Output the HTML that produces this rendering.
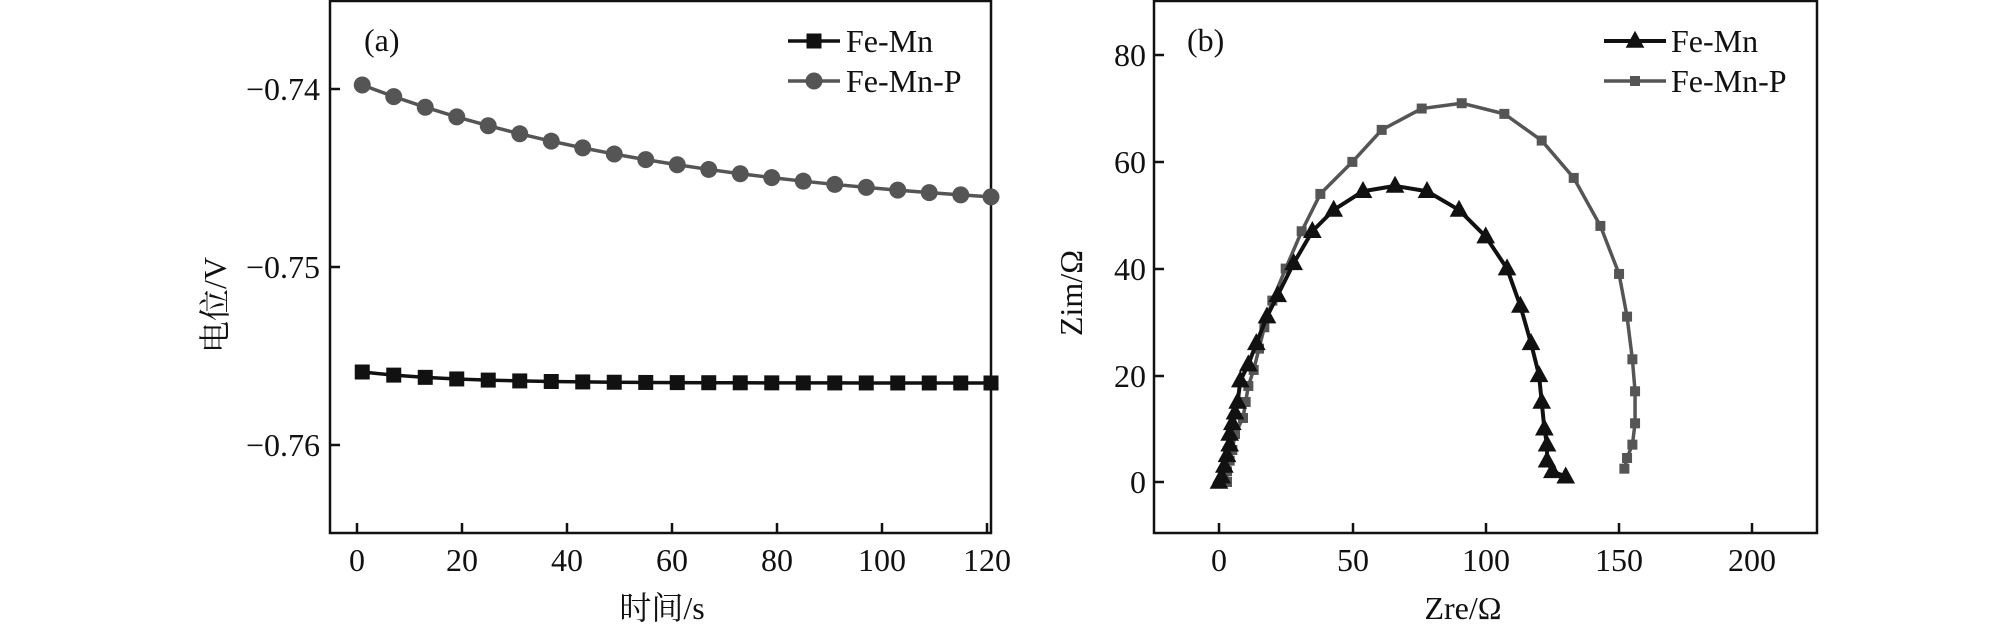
<!DOCTYPE html>
<html><head><meta charset="utf-8"><style>
html,body{margin:0;padding:0;background:#fff;}
svg{display:block;}
text{font-family:"Liberation Serif","Noto Serif CJK SC",serif;fill:#111;}
</style></head><body>
<svg id="s" width="2008" height="628" viewBox="0 0 2008 628" xmlns="http://www.w3.org/2000/svg">
<rect width="2008" height="628" fill="#fff"/>
<rect x="330" y="1" width="661" height="532" fill="none" stroke="#111" stroke-width="2.5"/>
<g stroke="#111" stroke-width="2.5">
<line x1="330" y1="89" x2="340" y2="89"/><line x1="330" y1="267" x2="340" y2="267"/><line x1="330" y1="445" x2="340" y2="445"/>
<line x1="357" y1="533" x2="357" y2="523"/><line x1="462" y1="533" x2="462" y2="523"/><line x1="567" y1="533" x2="567" y2="523"/><line x1="672" y1="533" x2="672" y2="523"/><line x1="777" y1="533" x2="777" y2="523"/><line x1="882" y1="533" x2="882" y2="523"/><line x1="987" y1="533" x2="987" y2="523"/>
</g>
<g font-size="32" text-anchor="end">
<text x="320" y="100">−0.74</text><text x="320" y="278">−0.75</text><text x="320" y="456">−0.76</text>
</g>
<g font-size="32" text-anchor="middle">
<text x="357" y="571">0</text><text x="462" y="571">20</text><text x="567" y="571">40</text><text x="672" y="571">60</text><text x="777" y="571">80</text><text x="882" y="571">100</text><text x="987" y="571">120</text>
<text x="662" y="619">时间/s</text>
<text transform="translate(226,305) rotate(-90)">电位/V</text>
</g>
<text x="364" y="51" font-size="32">(a)</text>
<g font-size="32"><text x="846" y="52">Fe-Mn</text><text x="846" y="92">Fe-Mn-P</text></g>

<rect x="1154" y="1" width="663" height="532" fill="none" stroke="#111" stroke-width="2.5"/>
<g stroke="#111" stroke-width="2.5">
<line x1="1154" y1="482" x2="1164" y2="482"/><line x1="1154" y1="376" x2="1164" y2="376"/><line x1="1154" y1="269" x2="1164" y2="269"/><line x1="1154" y1="162" x2="1164" y2="162"/><line x1="1154" y1="55" x2="1164" y2="55"/>
<line x1="1219" y1="533" x2="1219" y2="523"/><line x1="1353" y1="533" x2="1353" y2="523"/><line x1="1486" y1="533" x2="1486" y2="523"/><line x1="1619" y1="533" x2="1619" y2="523"/><line x1="1752" y1="533" x2="1752" y2="523"/>
</g>
<g font-size="32" text-anchor="end">
<text x="1146" y="493">0</text><text x="1146" y="387">20</text><text x="1146" y="280">40</text><text x="1146" y="173">60</text><text x="1146" y="66">80</text>
</g>
<g font-size="32" text-anchor="middle">
<text x="1219" y="571">0</text><text x="1353" y="571">50</text><text x="1486" y="571">100</text><text x="1619" y="571">150</text><text x="1752" y="571">200</text>
<text x="1463" y="619">Zre/Ω</text>
<text transform="translate(1082,293) rotate(-90)">Zim/Ω</text>
</g>
<text x="1187" y="51" font-size="32">(b)</text>
<g font-size="32"><text x="1671" y="52">Fe-Mn</text><text x="1671" y="92">Fe-Mn-P</text></g>
<g id="d"></g>
</svg>
<script>
var NS="http://www.w3.org/2000/svg",g=document.getElementById("d");
function el(t,a){var e=document.createElementNS(NS,t);for(var k in a)e.setAttribute(k,a[k]);g.appendChild(e);return e;}
function poly(pts,c,w){el("polyline",{points:pts.map(p=>p.join(",")).join(" "),fill:"none",stroke:c,"stroke-width":w,"stroke-linejoin":"round"});}
function sq(x,y,s,c){el("rect",{x:x-s/2,y:y-s/2,width:s,height:s,fill:c});}
function ci(x,y,r,c){el("circle",{cx:x,cy:y,r:r,fill:c});}
function tri(x,y,s,c){el("polygon",{points:(x)+","+(y-s*0.6)+" "+(x-s*0.55)+","+(y+s*0.4)+" "+(x+s*0.55)+","+(y+s*0.4),fill:c});}
var gray="#555";
var P=[],M=[];
for(var t=1;t<=121;t+=6){var x=357+5.25*t;if(x>991)x=991;
P.push([x,85+133.6*(1-Math.exp(-(t-1)/66))]);M.push([x,383-11*Math.exp(-(t-1)/18)]);}
poly(P,gray,3.5);P.forEach(p=>ci(p[0],p[1],8.5,gray));
poly(M,"#111",3.5);M.forEach(p=>sq(p[0],p[1],15,"#111"));
el("line",{x1:788,y1:41,x2:840,y2:41,stroke:"#111","stroke-width":3.5});sq(814,41,15,"#111");
el("line",{x1:788,y1:81,x2:840,y2:81,stroke:gray,"stroke-width":3.5});ci(814,81,8.5,gray);
function bx(v){return 1219+2.667*v;}function by(v){return 482-5.335*v;}
var A=[[0,0],[1,1],[2,3],[3,5],[4,7],[4,9],[5,11],[6,13],[7,15],[8,19],[11,22],[14,26],[18,31],[22,35],[28,41],[35,47],[43,51],[54,54.5],[66,55.5],[78,54.5],[90,51],[100,46],[108,40],[113,33],[117,26],[120,20],[121,15],[122,10],[123,7],[123,4],[125,2],[130,1]];
var B=[[3,0],[3,2],[4,4],[5,6],[6,9],[9,12],[10,15],[11,18],[13,21],[15,25],[17,29],[20,34],[25,40],[31,47],[38,54],[50,60],[61,66],[76,70],[91,71],[107,69],[121,64],[133,57],[143,48],[150,39],[153,31],[155,23],[156,17],[156,11],[155,7],[153,4.5],[152,2.5]];
var Bp=B.map(p=>[bx(p[0]),by(p[1])]),Ap=A.map(p=>[bx(p[0]),by(p[1])]);
poly(Bp,gray,3.5);Bp.forEach(p=>sq(p[0],p[1],10,gray));
poly(Ap,"#111",4);Ap.forEach(p=>tri(p[0],p[1],17,"#111"));
el("line",{x1:1604,y1:41,x2:1666,y2:41,stroke:"#111","stroke-width":4});tri(1635,41,17,"#111");
el("line",{x1:1604,y1:81,x2:1666,y2:81,stroke:gray,"stroke-width":3.5});sq(1635,81,10,gray);
</script>
</body></html>
